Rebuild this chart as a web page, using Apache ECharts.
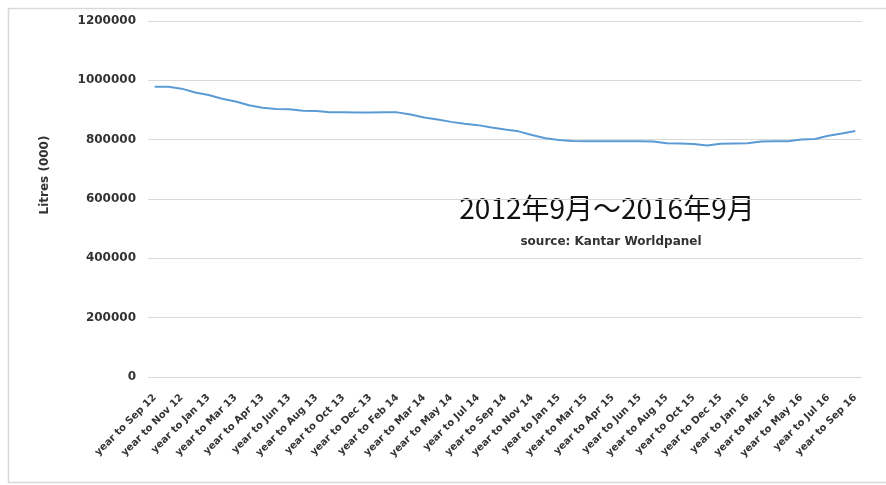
<!DOCTYPE html>
<html>
<head>
<meta charset="utf-8">
<script src="https://cdn.jsdelivr.net/npm/echarts@6/dist/echarts.min.js"></script>
<style>
html,body{margin:0;padding:0;background:#fff;}
#c{width:886px;height:485px;}
</style>
</head>
<body>
<div id="c"></div>
<script>
// Shown tick labels (every other 4-weekly period)
const tickLabels = [
  'year to Sep 12','year to Nov 12','year to Jan 13','year to Mar 13','year to Apr 13',
  'year to Jun 13','year to Aug 13','year to Oct 13','year to Dec 13','year to Feb 14',
  'year to Mar 14','year to May 14','year to Jul 14','year to Sep 14','year to Nov 14',
  'year to Jan 15','year to Mar 15','year to Apr 15','year to Jun 15','year to Aug 15',
  'year to Oct 15','year to Dec 15','year to Jan 16','year to Mar 16','year to May 16',
  'year to Jul 16','year to Sep 16'
];
// Litres (000), 53 four-weekly periods
const litres = [
  978500, 978000, 972000, 959000, 950500, 938000, 928500, 916000, 907500, 903500,
  902500, 897500, 896500, 892500, 892000, 891500, 891500, 892000, 892000, 885000,
  875000, 868000, 860000, 853500, 849000, 841000, 834000, 828000, 816000, 805000,
  799000, 795500, 794500, 794500, 794500, 794500, 794500, 794000, 788000, 787000,
  785500, 780000, 786000, 787000, 788000, 794000, 794500, 794500, 800500, 802500,
  813500, 820500, 829000
];
const yTicks = { min: 0, max: 1200000, interval: 200000 };
const annotation = '2012年9月～2016年9月';
const sourceText = 'source: Kantar Worldpanel';
const yTitle = 'Litres (000)';

// categories: each period; odd periods carry no visible label
const categories = litres.map((v, i) => (i % 2 === 0 ? tickLabels[i / 2] : ''));

const chart = echarts.init(document.getElementById('c'), null, { renderer: 'canvas' });
chart.setOption({
  animation: false,
  backgroundColor: '#fff',
  grid: { left: 148, right: 24, top: 21, bottom: 108, containLabel: false },
  xAxis: {
    type: 'category',
    data: categories,
    boundaryGap: true,
    axisLine: { show: false },
    axisTick: { show: false },
    axisLabel: {
      interval: 1,
      rotate: 45,
      margin: 19,
      fontFamily: 'DejaVu Sans',
      fontWeight: 'bold',
      fontSize: 10,
      color: '#333'
    }
  },
  yAxis: {
    type: 'value',
    min: yTicks.min,
    max: yTicks.max,
    interval: yTicks.interval,
    axisLine: { show: false },
    axisTick: { show: false },
    axisLabel: {
      margin: 12,
      fontFamily: 'DejaVu Sans',
      fontWeight: 'bold',
      fontSize: 12,
      color: '#333',
      formatter: (v) => String(v)
    },
    splitLine: { lineStyle: { color: '#d9d9d9', width: 1 } }
  },
  series: [{
    type: 'line',
    data: litres,
    symbol: 'none',
    smooth: false,
    lineStyle: { color: '#5b9bd5', width: 2 }
  }],
  graphic: [
    {
      type: 'rect',
      shape: { x: 8.5, y: 8.5, width: 900, height: 474 },
      style: { fill: 'none', stroke: '#d9d9d9', lineWidth: 1.5 },
      silent: true
    },
    {
      type: 'text',
      x: 45, y: 175,
      rotation: Math.PI / 2,
      style: {
        text: yTitle,
        fontFamily: 'DejaVu Sans',
        fontWeight: 'bold',
        fontSize: 12,
        fill: '#333',
        align: 'center',
        verticalAlign: 'middle'
      }
    },
    {
      type: 'text',
      x: 607, y: 208,
      style: {
        text: annotation,
        fontFamily: 'Noto Sans CJK JP',
        fontSize: 28,
        fill: '#111',
        align: 'center',
        verticalAlign: 'middle'
      }
    },
    {
      type: 'text',
      x: 611, y: 242,
      style: {
        text: sourceText,
        fontFamily: 'DejaVu Sans',
        fontWeight: 'bold',
        fontSize: 12,
        fill: '#333',
        align: 'center',
        verticalAlign: 'middle'
      }
    }
  ]
});
</script>
</body>
</html>
